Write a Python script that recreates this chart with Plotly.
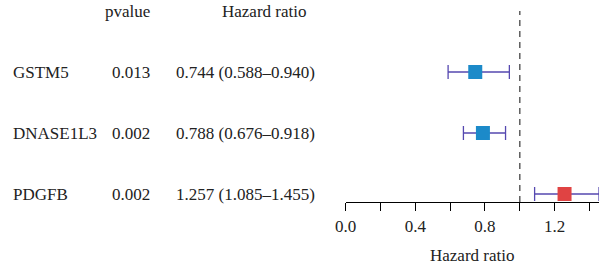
import plotly.graph_objects as go

genes = ["GSTM5", "DNASE1L3", "PDGFB"]
pvalues = ["0.013", "0.002", "0.002"]
hr = [0.744, 0.788, 1.257]
lower = [0.588, 0.676, 1.085]
upper = [0.940, 0.918, 1.455]
colors = ["#1C8AC9", "#1C8AC9", "#E04343"]
xticks = [0.0, 0.2, 0.4, 0.6, 0.8, 1.0, 1.2, 1.4]
xticklabels = ["0.0", "", "0.4", "", "0.8", "", "1.2", ""]

W, H = 600, 266
FONT = "Liberation Serif"
ypos = [3, 2, 1]

fig = go.Figure()
fig.add_trace(go.Scatter(
    x=hr, y=ypos, mode="markers",
    marker=dict(symbol="square", size=14, color=colors, line=dict(width=0)),
    error_x=dict(type="data", symmetric=False,
                 array=[u - h for u, h in zip(upper, hr)],
                 arrayminus=[h - l for h, l in zip(hr, lower)],
                 color="#5548B0", thickness=1.3, width=7),
    showlegend=False, cliponaxis=False,
))

ybot = 1 - 8 / 61
ytop = 1 + 194 / 61

fig.add_shape(type="line", xref="x", yref="y", x0=1.0, x1=1.0, y0=ybot, y1=4.0,
              line=dict(color="#444444", width=1.3, dash="6px,5px"), layer="below")

def px(x):
    return x / W

ann = []
ann.append(dict(x=px(144), y=4.0, xref="paper", yref="y", text="pvalue",
                xanchor="right", yanchor="middle", showarrow=False))
ann.append(dict(x=px(258), y=4.0, xref="paper", yref="y", text="Hazard ratio",
                xanchor="center", yanchor="middle", showarrow=False))
for g, p, h, l, u, y in zip(genes, pvalues, hr, lower, upper, ypos):
    ann.append(dict(x=px(0), y=y, xref="paper", yref="y", text=g,
                    xanchor="left", yanchor="middle", showarrow=False))
    ann.append(dict(x=px(144), y=y, xref="paper", yref="y", text=p,
                    xanchor="right", yanchor="middle", showarrow=False))
    ann.append(dict(x=px(166), y=y, xref="paper", yref="y",
                    text=f"{h:.3f} ({l:.3f}\u2013{u:.3f})",
                    xanchor="left", yanchor="middle", showarrow=False))
ann.append(dict(x=px(470), y=(H - 255) / H, xref="paper", yref="paper",
                text="Hazard ratio", xanchor="center", yanchor="middle", showarrow=False))

fig.update_layout(
    width=W, height=H,
    margin=dict(l=0, r=0, t=0, b=0),
    paper_bgcolor="white", plot_bgcolor="white",
    font=dict(family=FONT, size=17, color="#222222"),
    annotations=ann,
    xaxis=dict(domain=[341 / W, 599 / W], range=[0, 1.455], showgrid=False,
               zeroline=False, showline=True, linecolor="black", linewidth=1.2,
               ticks="outside", ticklen=8, tickwidth=1.2, tickcolor="black",
               tickvals=xticks, ticktext=xticklabels,
               tickfont=dict(family=FONT, size=17, color="#222222")),
    yaxis=dict(domain=[64 / H, 1], range=[ybot, ytop], visible=False),
)

fig.write_html("out.html")
